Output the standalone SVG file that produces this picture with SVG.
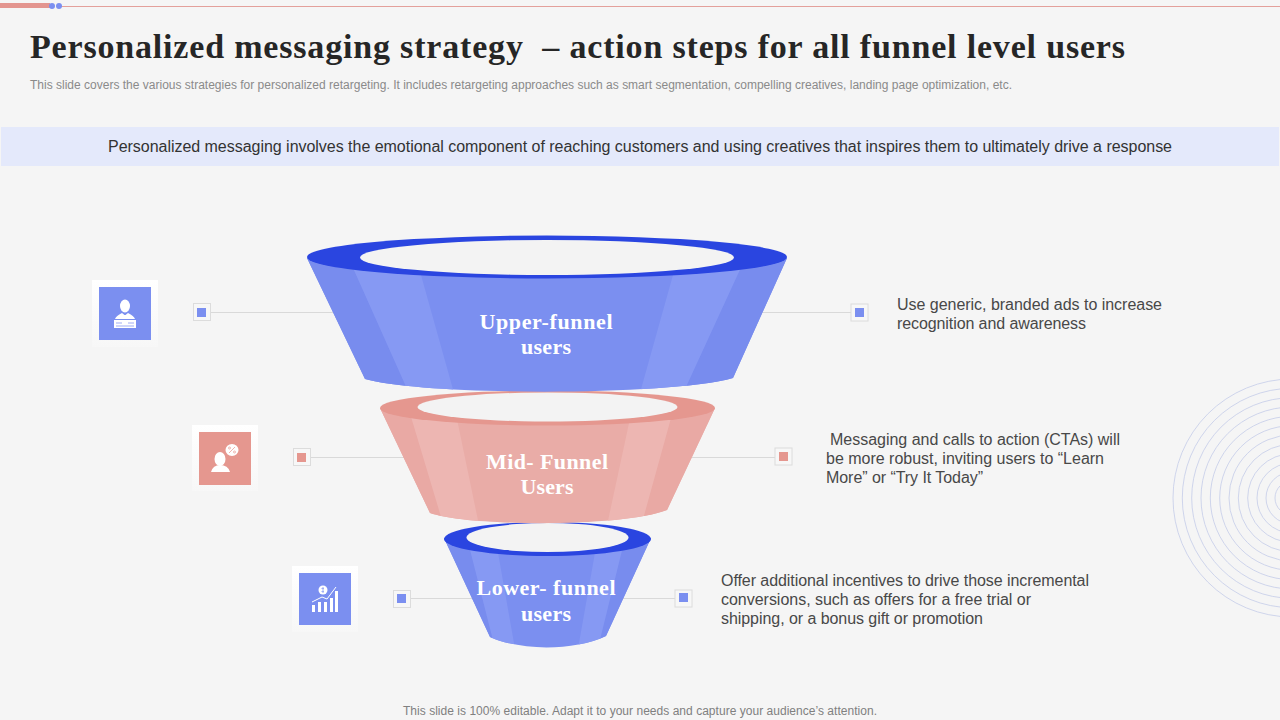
<svg xmlns="http://www.w3.org/2000/svg" width="1280" height="720" viewBox="0 0 1280 720">
<style>
.t{font-family:"Liberation Serif","DejaVu Serif",serif;font-weight:700}
.s{font-family:"Liberation Sans",Arial,sans-serif}
.d{font-size:16px;fill:#484848}
.f{font-size:22px;fill:#fff;text-anchor:middle}
.b{fill:#7b8ff0}.bo{fill:#788cee}.bl{fill:#8699f3}.br{fill:#2a45e0}
.p{fill:#e9aca7}.po{fill:#e9a9a4}.pl{fill:#edb6b2}.pr{fill:#e5978f}
.in{fill:#f3f3f3}
.c{fill:none;stroke:#d9d9d9;stroke-width:1}
.sq{fill:#f7f7f7;stroke:#dcdcdc;stroke-width:1}
.ring{fill:none;stroke:#c4cbe8;stroke-width:.8}
.w{fill:#fff}
.card{fill:url(#cg)}
.il{fill:none;stroke-width:1}
</style>
<defs>
<linearGradient id="cg" x1="0" y1="0" x2="0" y2="1"><stop offset="0" stop-color="#fff"/><stop offset="1" stop-color="#f7f7f7"/></linearGradient>
<clipPath id="cu"><path d="M307 258L365 379C425 396 670 396 733 378L787 258Z"/></clipPath>
<clipPath id="cm"><path d="M380 408L430 513C470 527 625 527 667 510L715 408Z"/></clipPath>
<clipPath id="cl"><path d="M444 538L490 637C520 651 575 651 606 636L651 538Z"/></clipPath>
</defs>
<rect width="1280" height="720" fill="#f5f5f5"/>
<g id="top-bar">
<rect x="60" y="6" width="1220" height="1" fill="#e3a09b"/>
<rect x="0" y="3" width="50" height="5" fill="#e3958f"/>
<circle cx="52" cy="6" r="3" fill="#7b8ff0"/><circle cx="59" cy="6" r="3" fill="#7b8ff0"/>
</g>
<text class="t" x="30" y="58" font-size="34" textLength="1095" lengthAdjust="spacing" fill="#262626" xml:space="preserve">Personalized messaging strategy  – action steps for all funnel level users</text>
<text class="s" x="30" y="89" font-size="12" textLength="982" fill="#8a8a8a">This slide covers the various strategies for personalized retargeting. It includes retargeting approaches such as smart segmentation, compelling creatives, landing page optimization, etc.</text>
<g id="banner">
<rect x="1" y="127" width="1278" height="39" fill="#e4e9fb"/>
<text class="s" x="108" y="151.500" font-size="16" textLength="1064" fill="#333">Personalized messaging involves the emotional component of reaching customers and using creatives that inspires them to ultimately drive a response</text>
</g>
<g id="rings">
<circle class="ring" cx="1292" cy="498" r="119"/><circle class="ring" cx="1292" cy="498" r="109.7"/><circle class="ring" cx="1292" cy="498" r="100.3"/><circle class="ring" cx="1292" cy="498" r="91"/><circle class="ring" cx="1292" cy="498" r="81.7"/><circle class="ring" cx="1292" cy="498" r="72.3"/><circle class="ring" cx="1292" cy="498" r="63"/><circle class="ring" cx="1292" cy="498" r="53.7"/><circle class="ring" cx="1292" cy="498" r="44.3"/><circle class="ring" cx="1292" cy="498" r="35"/><circle class="ring" cx="1292" cy="498" r="26"/><circle class="ring" cx="1292" cy="498" r="17"/>
</g>
<g id="connectors">
<path class="c" d="M211 312.500H340M760 312.500H851M311 457.500H410M690 457.500H775M411 598.500H475M620 598.500H675"/>
</g>
<g id="lower-funnel">
<path class="b" d="M444 538L490 637C520 651 575 651 606 636L651 538Z"/>
<g clip-path="url(#cl)">
<path class="bo" d="M440 530H465L498 660H470ZM627 530H660V660H595Z"/>
<path class="bl" d="M465 530H494L517 660H498ZM599 530H627L595 660H576Z"/>
</g>
<ellipse class="br" cx="547.5" cy="539" rx="103.5" ry="17"/>
<ellipse class="in" cx="547.5" cy="537.5" rx="81" ry="14.5"/>
<text class="t f" x="546" y="595" textLength="139">Lower- funnel</text><text class="t f" x="546" y="621" textLength="50">users</text>
</g>
<g id="mid-funnel">
<path class="p" d="M380 408L430 513C470 527 625 527 667 510L715 408Z"/>
<g clip-path="url(#cm)">
<path class="po" d="M375 400H406L445 530H420ZM676 400H720V530H640Z"/>
<path class="pl" d="M406 400H453L480 530H445ZM634 400H676L640 530H606Z"/>
</g>
<ellipse class="pr" cx="547.5" cy="408" rx="167.5" ry="17.5"/>
<ellipse class="in" cx="547.5" cy="407" rx="130" ry="14.500"/>
<text class="t f" x="547" y="469" textLength="122">Mid- Funnel</text>
<text class="t f" x="547" y="494" textLength="53">Users</text>
</g>
<g id="upper-funnel">
<path class="b" d="M307 258L365 379C425 396 670 396 733 378L787 258Z"/>
<g clip-path="url(#cu)">
<path class="bo" d="M300 250H345L412 400H360ZM749 250H790V400H680Z"/>
<path class="bl" d="M345 250H414L456 400H412ZM680 250H749L680 400H638Z"/>
</g>
<ellipse class="br" cx="547" cy="257" rx="240" ry="21.500"/>
<ellipse class="in" cx="547" cy="257.500" rx="187" ry="17.500"/>
<text class="t f" x="546" y="329" textLength="133">Upper-funnel</text>
<text class="t f" x="546" y="354" textLength="50">users</text>
</g>
<g id="node-upper">
<rect class="card" x="92" y="280" width="66" height="67"/>
<rect class="b" x="99" y="287" width="52" height="53"/>
<ellipse class="w" cx="125" cy="306" rx="5" ry="6.500"/>
<path class="w" d="M115 319Q116 316 122 313L124.500 315H125.500L128 313Q134 316 135 319Z"/>
<rect class="w" x="114" y="320" width="22" height="8"/>
<path class="il" stroke="#9fadf4" d="M116 323H122M128 323H134M116 326H134"/>
</g>
<g id="sq-upper-left"><rect class="sq" x="193.500" y="303.500" width="17" height="17"/><rect class="b" x="197" y="308" width="9" height="9"/></g>
<g id="sq-upper-right"><rect class="sq" x="851" y="304" width="17" height="17"/><rect class="b" x="855" y="308" width="9" height="9"/></g>
<g id="text-upper"><text class="s d" x="897" y="310" textLength="265">Use generic, branded ads to increase</text><text class="s d" x="897" y="329" textLength="189">recognition and awareness</text></g>
<g id="node-mid">
<rect class="card" x="192" y="425" width="66" height="66"/>
<rect class="pr" x="199" y="432" width="52" height="53"/>
<ellipse class="w" cx="220" cy="459" rx="5.500" ry="7"/>
<path class="w" d="M211 472Q213 465 220 465Q228 465 230 472Z"/>
<ellipse class="w" cx="232" cy="450" rx="6.500" ry="6"/>
<path class="il" stroke="#eeb5b0" d="M229 453L235 447"/><circle class="il" stroke="#eeb5b0" cx="229.500" cy="448" r="1"/><circle class="il" stroke="#eeb5b0" cx="234.500" cy="452" r="1"/>
</g>
<g id="sq-mid-left"><rect class="sq" x="293.500" y="448.500" width="17" height="17"/><rect class="pr" x="297" y="453" width="9" height="9"/></g>
<g id="sq-mid-right"><rect class="sq" x="775" y="448" width="17" height="17"/><rect class="pr" x="779" y="452" width="9" height="9"/></g>
<g id="text-mid"><text class="s d" x="830" y="445" textLength="290">Messaging and calls to action (CTAs) will</text><text class="s d" x="826" y="464" textLength="278">be more robust, inviting users to “Learn</text><text class="s d" x="826" y="483" textLength="157">More” or “Try It Today”</text></g>
<g id="node-lower">
<rect class="card" x="292" y="566" width="66" height="66"/>
<rect class="b" x="299" y="573" width="52" height="52"/>
<rect class="w" x="312" y="605" width="3" height="7"/><rect class="w" x="318" y="602" width="3" height="10"/><rect class="w" x="324" y="602" width="3" height="10"/><rect class="w" x="330" y="598" width="3" height="14"/><rect class="w" x="335" y="591" width="3" height="21"/>
<path d="M312 602L322 597L327 599L336 587" fill="none" stroke="#fff" stroke-width="1"/>
<circle class="w" cx="323" cy="590" r="4.500"/>
<path class="il" stroke="#9fadf4" d="M323 587V593M321.500 588.500H324M321.500 591.500H324"/>
</g>
<g id="sq-lower-left"><rect class="sq" x="393.500" y="590.500" width="17" height="17"/><rect class="b" x="397" y="594" width="9" height="9"/></g>
<g id="sq-lower-right"><rect class="sq" x="675" y="590" width="17" height="17"/><rect class="b" x="679" y="593" width="9" height="9"/></g>
<g id="text-lower"><text class="s d" x="721" y="586" textLength="368">Offer additional incentives to drive those incremental</text><text class="s d" x="721" y="605" textLength="310">conversions, such as offers for a free trial or</text><text class="s d" x="721" y="624" textLength="262">shipping, or a bonus gift or promotion</text></g>
<text class="s" x="403" y="715" font-size="12" textLength="474" fill="#808080">This slide is 100% editable. Adapt it to your needs and capture your audience’s attention.</text>
</svg>
